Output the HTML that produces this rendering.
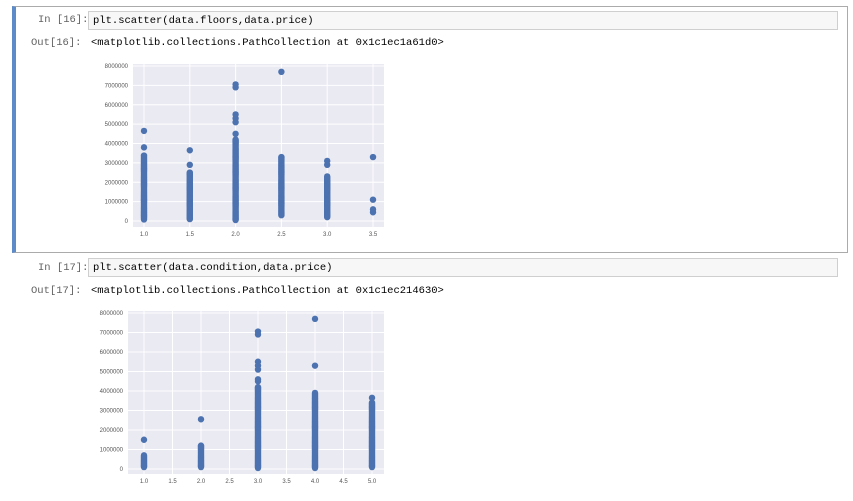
<!DOCTYPE html>
<html><head><meta charset="utf-8"><style>
body{margin:0;width:853px;height:501px;background:#fff;position:relative;overflow:hidden;font-family:"Liberation Mono",monospace;}
.lbl{position:absolute;font-size:10.5px;color:#616161;}
.olbl{position:absolute;font-size:10.5px;color:#616161;}
.inp{position:absolute;left:88px;width:750px;height:19px;background:#f7f7f7;border:1px solid #cfcfcf;font-size:10.5px;line-height:19px;padding-left:4px;box-sizing:border-box;color:#000;}
.out{position:absolute;left:91px;font-size:10.5px;color:#000;}
svg{position:absolute;left:0;top:0;}
</style></head><body>
<div style="position:absolute;left:12px;top:6px;width:836px;height:247px;border:1px solid #ababab;box-sizing:border-box;border-left:4px solid #5d8ac9;"></div>
<div class="lbl" style="left:38px;top:14px">In [16]:</div>
<div class="inp" style="top:11px">plt.scatter(data.floors,data.price)</div>
<div class="olbl" style="left:31px;top:37px">Out[16]:</div>
<div class="out" style="top:37px">&lt;matplotlib.collections.PathCollection at 0x1c1ec1a61d0&gt;</div>

<div class="lbl" style="left:38px;top:262px">In [17]:</div>
<div class="inp" style="top:258px">plt.scatter(data.condition,data.price)</div>
<div class="olbl" style="left:31px;top:285px">Out[17]:</div>
<div class="out" style="top:285px">&lt;matplotlib.collections.PathCollection at 0x1c1ec214630&gt;</div>

<svg id="s" width="853" height="501"></svg>
<script>
// Chart 1: floors vs price (millions)
const cats1 = [1.0, 1.5, 2.0, 2.5, 3.0, 3.5];
const denseLow1 = [0.08, 0.1, 0.05, 0.3, 0.2, 0.45];
const denseHigh1 = [3.4, 2.5, 4.2, 3.3, 2.3, 0.45];
const outliers1 = [[3.8, 4.65], [2.9, 3.65], [4.5, 5.1, 5.3, 5.5, 6.9, 7.05], [7.7], [2.9, 3.1], [0.6, 1.1, 3.3]];
const xTicks1 = ["1.0", "1.5", "2.0", "2.5", "3.0", "3.5"];
const xTickVals1 = [1.0, 1.5, 2.0, 2.5, 3.0, 3.5];
// Chart 2: condition vs price (millions)
const cats2 = [1, 2, 3, 4, 5];
const denseLow2 = [0.1, 0.1, 0.05, 0.05, 0.1];
const denseHigh2 = [0.7, 1.2, 4.2, 3.9, 3.4];
const outliers2 = [[1.5], [2.55], [4.5, 4.6, 5.1, 5.3, 5.5, 6.9, 7.05], [5.3, 7.7], [3.65]];
const xTicks2 = ["1.0", "1.5", "2.0", "2.5", "3.0", "3.5", "4.0", "4.5", "5.0"];
const xTickVals2 = [1, 1.5, 2, 2.5, 3, 3.5, 4, 4.5, 5];
const yTicks = ["0", "1000000", "2000000", "3000000", "4000000", "5000000", "6000000", "7000000", "8000000"];
const yTickVals = [0, 1, 2, 3, 4, 5, 6, 7, 8];

const NS = "http://www.w3.org/2000/svg";
const svg = document.getElementById('s');
function mk(tag, attrs, parent) { const e = document.createElementNS(NS, tag); for (const k in attrs) e.setAttribute(k, attrs[k]); (parent || svg).appendChild(e); return e; }

function chart(cfg) {
  const g = mk('g', {});
  
  
  const x = v => cfg.x0 + (v - cfg.v0) / (cfg.v1 - cfg.v0) * (cfg.x1 - cfg.x0);
  const y = v => cfg.y0 - v / 8 * (cfg.y0 - cfg.y8);
  const bg = mk('rect', { x: cfg.L, y: cfg.T, width: cfg.R - cfg.L, height: cfg.B - cfg.T, fill: '#eaeaf2' }, g);
  
  
  yTickVals.forEach((v, i) => {
    mk('line', { x1: cfg.L, x2: cfg.R, y1: y(v), y2: y(v), stroke: '#fff', 'stroke-width': 1 }, g);
    const t = mk('text', { x: cfg.L - 5, y: y(v) + 2, 'text-anchor': 'end', 'font-size': 6, fill: '#555', 'font-family': 'Liberation Sans, sans-serif' }, g);
    t.textContent = yTicks[i];
    
    
  });
  cfg.xtv.forEach((v, i) => {
    mk('line', { x1: x(v), x2: x(v), y1: cfg.T, y2: cfg.B, stroke: '#fff', 'stroke-width': 1 }, g);
    const t = mk('text', { x: x(v), y: cfg.B + 9, 'text-anchor': 'middle', 'font-size': 6, fill: '#555', 'font-family': 'Liberation Sans, sans-serif' }, g);
    t.textContent = cfg.xt[i];
    
    
  });
  cfg.cats.forEach((c, i) => {
    const cx = x(c);
    for (let v = cfg.lo[i]; v <= cfg.hi[i] + 1e-9; v += 0.05) {
      const p = mk('circle', { cx: cx, cy: y(v), r: 3.2, fill: '#4c72b0' }, g);
      
      
    }
    cfg.out[i].forEach(v => {
      const p = mk('circle', { cx: cx, cy: y(v), r: 3.2, fill: '#4c72b0' }, g);
      
      
    });
  });
}
chart({ name: 'floors-price-scatter', L: 133, R: 384, T: 64, B: 227, x0: 144, x1: 373, v0: 1.0, v1: 3.5, y0: 221, y8: 66,
  xt: xTicks1, xtv: xTickVals1, cats: cats1, lo: denseLow1, hi: denseHigh1, out: outliers1 });
chart({ name: 'condition-price-scatter', L: 128, R: 384, T: 311, B: 474, x0: 144, x1: 372, v0: 1, v1: 5, y0: 469, y8: 313,
  xt: xTicks2, xtv: xTickVals2, cats: cats2, lo: denseLow2, hi: denseHigh2, out: outliers2 });
</script>
</body></html>
